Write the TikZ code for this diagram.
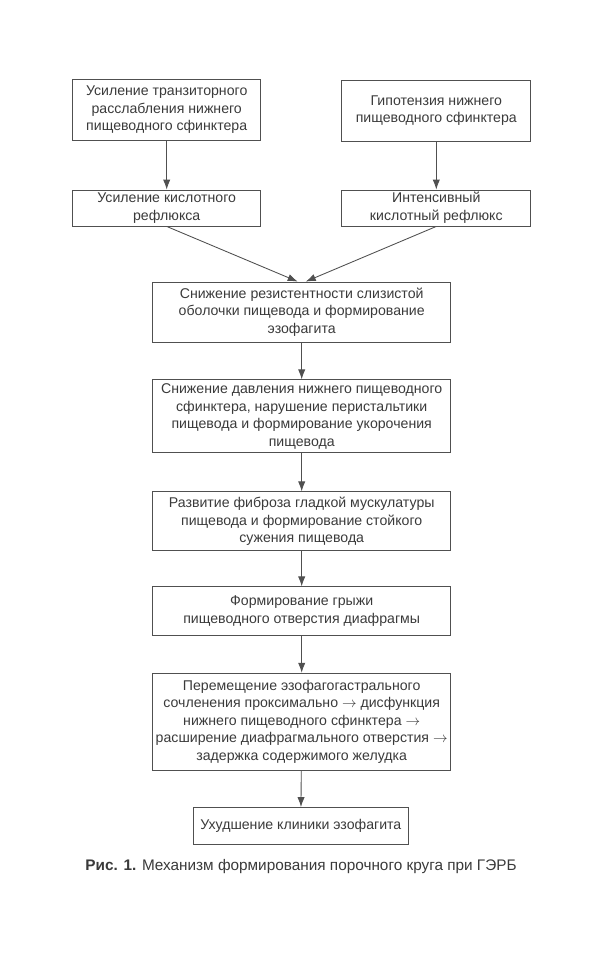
\documentclass[tikz,border=0pt]{standalone}
\usepackage{fontspec}
\setmainfont{Liberation Sans}
\usetikzlibrary{arrows.meta,positioning,calc}
\definecolor{linegray}{RGB}{80,80,80}
\definecolor{textgray}{RGB}{58,58,58}
\tikzset{
    blok/.style={rectangle, draw=linegray, line width=0.65pt, text=textgray, align=center, inner sep=0pt, font=\fontsize{10.6}{13.2}\selectfont},
    bsize/.style 2 args={minimum width=#1*0.75pt, minimum height=#2*0.75pt},
    strel/.style={draw=linegray, line width=0.65pt, -{Latex[length=7.5pt,width=5.5pt]}},
    podp/.style={text=textgray, font=\fontsize{11.5}{14}\selectfont},
}
\newcommand{\strelka}{$\rightarrow$}

\begin{document}
\begin{tikzpicture}[x=0.75pt, y=-0.75pt]
    \useasboundingbox (0,0) rectangle (597,960);

    % two starting branches
    \node[blok, bsize={188}{61}] (tranz) at (166.7,110) {Усиление транзиторного\\расслабления нижнего\\пищеводного сфинктера};
    \node[blok, bsize={189}{61}] (gipo) at (436.3,110.5) {Гипотензия нижнего\\пищеводного сфинктера};
    \node[blok, bsize={188}{36}] (kisl) at (166.7,208) {Усиление кислотного\\рефлюкса};
    \node[blok, bsize={189}{36}] (intens) at (436.3,208) {Интенсивный\\кислотный рефлюкс};
    \draw[strel] (tranz) -- (kisl);
    \draw[strel] (gipo) -- (intens);

    % main chain
    \node[blok, bsize={298}{60}] (rezist) at (301.7,312) {Снижение резистентности слизистой\\оболочки пищевода и формирование\\эзофагита};
    \node[blok, bsize={298}{73}] (davl) at (301.7,416.3) {Снижение давления нижнего пищеводного\\сфинктера, нарушение перистальтики\\пищевода и формирование укорочения\\пищевода};
    \node[blok, bsize={298}{59}] (fibroz) at (301.7,521.3) {Развитие фиброза гладкой мускулатуры\\пищевода и формирование стойкого\\сужения пищевода};
    \node[blok, bsize={298}{49}] (gryzha) at (301.7,611.3) {Формирование грыжи\\пищеводного отверстия диафрагмы};
    \node[blok, bsize={298}{97}] (peremesh) at (301.7,721.7) {Перемещение эзофагогастрального\\сочленения проксимально \strelka{} дисфункция\\нижнего пищеводного сфинктера \strelka\\расширение диафрагмального отверстия \strelka\\задержка содержимого желудка};
    \node[blok, bsize={215}{37}] (klinika) at (300.8,826) {Ухудшение клиники эзофагита};

    \draw[strel] (kisl.south) -- ([xshift=-3pt]rezist.north);
    \draw[strel] (intens.south) -- ([xshift=3pt]rezist.north);
    \draw[strel] (rezist) -- (davl);
    \draw[strel] (davl) -- (fibroz);
    \draw[strel] (fibroz) -- (gryzha);
    \draw[strel] (gryzha) -- (peremesh);
    \draw[strel] (peremesh) -- (klinika);

    % caption
    \node[podp] (podpis) at (301,867) {\textbf{Рис. 1.} Механизм формирования порочного круга при ГЭРБ};
\end{tikzpicture}
\end{document}
